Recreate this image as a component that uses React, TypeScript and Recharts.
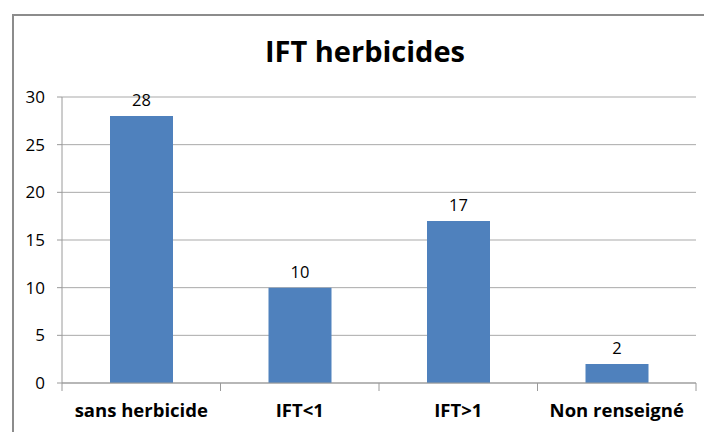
import { Bar, BarChart, CartesianGrid, LabelList, XAxis, YAxis } from "recharts";

const categories = ["sans herbicide", "IFT<1", "IFT>1", "Non renseigné"];
const counts = [28, 10, 17, 2];
const yTicks = [0, 5, 10, 15, 20, 25, 30];

const data = categories.map((label, i) => ({ label, value: counts[i] }));

const FONT = "'Open Sans', 'Noto Sans', sans-serif";
const AXIS = "#9a9a9a";
const TICK_SIZE = 8;
const TICK_GAP = 13;

// category ticks sit on the band edges, like Excel does
function CategoryTick(props: any) {
  const { x, y, payload, index, width, visibleTicksCount } = props;
  const half = width / visibleTicksCount / 2;
  const axisY = y - TICK_SIZE - TICK_GAP;
  return (
    <g>
      <line x1={x - half} x2={x - half} y1={axisY} y2={axisY + TICK_SIZE} stroke={AXIS} />
      {index === visibleTicksCount - 1 && (
        <line x1={x + half} x2={x + half} y1={axisY} y2={axisY + TICK_SIZE} stroke={AXIS} />
      )}
      <text
        x={x}
        y={y}
        dy="0.71em"
        textAnchor="middle"
        fill="#000"
        fontSize={18.5}
        fontWeight={700}
        fontFamily={FONT}
      >
        {payload.value}
      </text>
    </g>
  );
}

export default function App() {
  return (
    <div
      style={{
        position: "absolute",
        left: 0,
        top: 0,
        width: 704,
        height: 432,
        overflow: "hidden",
        background: "#fff",
        fontFamily: FONT,
      }}
    >
      <div
        style={{
          position: "absolute",
          left: 12,
          top: 14,
          width: 720,
          height: 440,
          border: "2px solid #8c8c8c",
        }}
      />
      <div
        style={{
          position: "absolute",
          left: 0,
          width: 730,
          top: 31,
          textAlign: "center",
          fontWeight: 700,
          fontSize: 29,
          lineHeight: "40px",
          color: "#000",
        }}
      >
        IFT herbicides
      </div>
      <div style={{ position: "absolute", left: 0, top: 0 }}>
        <BarChart
          width={704}
          height={432}
          data={data}
          margin={{ top: 97, right: 8, bottom: 0, left: 0 }}
        >
          <CartesianGrid vertical={false} stroke="#a9a9a9" />
          <XAxis
            dataKey="label"
            height={49}
            axisLine={{ stroke: AXIS }}
            tickLine={false}
            tickSize={TICK_SIZE}
            tickMargin={TICK_GAP}
            tick={<CategoryTick />}
            interval={0}
          />
          <YAxis
            domain={[0, 30]}
            ticks={yTicks}
            width={62}
            tickSize={5}
            tickMargin={12}
            axisLine={{ stroke: AXIS }}
            tickLine={{ stroke: AXIS }}
            tick={{ fill: "#000", fontSize: 17, fontFamily: FONT }}
          />
          <Bar dataKey="value" fill="#4F81BD" barSize={63} isAnimationActive={false}>
            <LabelList
              dataKey="value"
              position="top"
              offset={10}
              fill="#000"
              fontSize={16.5}
              fontFamily={FONT}
            />
          </Bar>
        </BarChart>
      </div>
    </div>
  );
}
